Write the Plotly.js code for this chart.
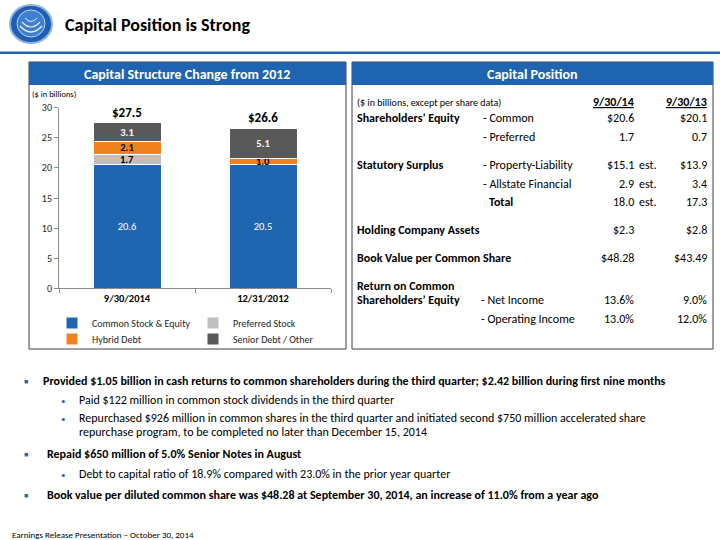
<!DOCTYPE html>
<html><head><meta charset="utf-8">
<script src="https://cdn.plot.ly/plotly-3.0.1.min.js"></script>
<style>html,body{margin:0;padding:0;background:#fff;}#chart{width:720px;height:540px;}</style>
</head><body><div id="chart"></div>
<script>
// ---------- DATA ----------
const categories = ['9/30/2014', '12/31/2012'];
const commonEquity = [20.6, 20.5];
const preferredStock = [1.7, 0];
const hybridDebt = [2.1, 1.0];
const seniorDebt = [3.1, 5.1];
const seriesNames = ['Common Stock & Equity', 'Preferred Stock', 'Hybrid Debt', 'Senior Debt / Other'];

const tableHeaders = ['9/30/14', '9/30/13'];
const tableRows = [
  {label: 'Shareholders\u2019 Equity', sub: '- Common', v1: '$20.6', est: '', v2: '$20.1'},
  {label: '', sub: '- Preferred', v1: '1.7', est: '', v2: '0.7'},
  {label: 'Statutory Surplus', sub: '- Property-Liability', v1: '$15.1', est: 'est.', v2: '$13.9'},
  {label: '', sub: '- Allstate Financial', v1: '2.9', est: 'est.', v2: '3.4'},
  {label: '', sub: '<b>Total</b>', v1: '18.0', est: 'est.', v2: '17.3'},
  {label: 'Holding Company Assets', sub: '', v1: '$2.3', est: '', v2: '$2.8'},
  {label: 'Book Value per Common Share', sub: '', v1: '$48.28', est: '', v2: '$43.49'},
  {label: 'Return on Common', sub: '', v1: '', est: '', v2: ''},
  {label: 'Shareholders\u2019 Equity', sub: '- Net Income', v1: '13.6%', est: '', v2: '9.0%'},
  {label: '', sub: '- Operating Income', v1: '13.0%', est: '', v2: '12.0%'}
];

const bullets = [
  {lvl: 1, lines: ['Provided $1.05 billion in cash returns to common shareholders during the third quarter; $2.42 billion during first nine months']},
  {lvl: 2, lines: ['Paid $122 million in common stock dividends in the third quarter']},
  {lvl: 2, lines: ['Repurchased $926 million in common shares in the third quarter and initiated second $750 million accelerated share', 'repurchase program, to be completed no later than December 15, 2014']},
  {lvl: 1, lines: ['Repaid $650 million of 5.0% Senior Notes in August']},
  {lvl: 2, lines: ['Debt to capital ratio of 18.9% compared with 23.0% in the prior year quarter']},
  {lvl: 1, lines: ['Book value per diluted common share was $48.28 at September 30, 2014, an increase of 11.0% from a year ago']}
];

// ---------- STYLE ----------
const FONT = "Carlito, Calibri, 'Liberation Sans Narrow', 'Liberation Sans', Arial, sans-serif";
const BLUE = '#1E64B0';
const C_COMMON = '#1F66B1', C_PREF = '#BFBFBF', C_HYB = '#F0821E', C_SEN = '#595959';

const px = x => x / 720;
const py = y => 1 - y / 540;

function lbl(arr) { return arr.map(v => v > 0 ? v.toFixed(1) : ''); }

function barTrace(name, vals, color, txtColor, bold, legend) {
  return {
    type: 'bar', name: name, x: categories, y: vals,
    marker: {color: color, line: {color: '#ffffff', width: 1}},
    text: lbl(vals),
    texttemplate: bold ? '<b>%{text}</b>' : '%{text}',
    textposition: 'inside', insidetextanchor: 'middle', textangle: 0,
    constraintext: 'none',
    insidetextfont: {family: FONT, size: 10.5, color: txtColor},
    hoverinfo: 'skip', legend: legend, width: 0.5
  };
}

const traces = [
  barTrace(seriesNames[0], commonEquity, C_COMMON, '#ffffff', false, 'legend'),
  barTrace(seriesNames[1], preferredStock, C_PREF, '#000000', true, 'legend'),
  barTrace(seriesNames[2], hybridDebt, C_HYB, '#000000', true, 'legend2'),
  barTrace(seriesNames[3], seniorDebt, C_SEN, '#ffffff', true, 'legend2')
];

const totals = categories.map((c, i) => commonEquity[i] + preferredStock[i] + hybridDebt[i] + seniorDebt[i]);

const annotations = [];
function ann(text, x, y, o) {
  annotations.push(Object.assign({
    text: text, x: px(x), y: py(y), xref: 'paper', yref: 'paper',
    xanchor: 'left', yanchor: 'middle', showarrow: false,
    font: {family: FONT, size: 12, color: '#000'}
  }, o || {}));
}

// totals above bars (data coords)
categories.forEach((c, i) => {
  annotations.push({
    text: '<b>$' + totals[i].toFixed(1) + '</b>', x: c, y: totals[i], xref: 'x', yref: 'y',
    yanchor: 'bottom', showarrow: false, yshift: 1,
    font: {family: FONT, size: 13, color: '#000'}
  });
});

// page title
ann('<b>Capital Position is Strong</b>', 63, 25, {font: {family: FONT, size: 18, color: '#000'}});
// panel titles
ann('<b>Capital Structure Change from 2012</b>', 187, 74, {xanchor: 'center', font: {family: FONT, size: 14, color: '#fff'}});
ann('<b>Capital Position</b>', 532, 74, {xanchor: 'center', font: {family: FONT, size: 14, color: '#fff'}});
ann('($ in billions)', 30, 94, {font: {family: FONT, size: 8.5, color: '#000'}});

// table
ann('($ in billions, except per share data)', 355, 102, {font: {family: FONT, size: 10, color: '#000'}});
ann('<b><u>' + tableHeaders[0] + '</u></b>', 636, 102, {xanchor: 'right'});
ann('<b><u>' + tableHeaders[1] + '</u></b>', 709, 102, {xanchor: 'right'});
const rowY = [118, 137, 165, 184, 202, 230, 258, 286, 300, 319];
tableRows.forEach((r, i) => {
  const y = rowY[i];
  if (r.label) ann('<b>' + r.label + '</b>', 355, y);
  if (r.sub) ann(r.sub, r.sub.indexOf('<b>') === 0 ? 487 : (i >= 8 ? 479 : 481), y);
  if (r.v1) ann(r.v1, 636, y, {xanchor: 'right'});
  if (r.est) ann(r.est, 637, y);
  if (r.v2) ann(r.v2, 709, y, {xanchor: 'right'});
});

// bullets
const bulletY = [381, 400, 418, 454, 474, 495];
bullets.forEach((b, i) => {
  const y = bulletY[i];
  if (b.lvl === 1) {
    ann('\u25A0', 22, y, {font: {family: FONT, size: 7, color: BLUE}});
    ann('<b>' + b.lines[0] + '</b>', i === 0 ? 41 : 45, y, {font: {family: FONT, size: 12, color: '#000'}});
  } else {
    ann('\u2022', 59, y, {font: {family: FONT, size: 9, color: BLUE}});
    b.lines.forEach((ln, k) => ann(ln, 77, y + 14 * k, {font: {family: FONT, size: 12, color: '#000'}}));
  }
});
ann('Earnings Release Presentation \u2013 October 30, 2014', 10, 534, {font: {family: FONT, size: 9, color: '#000'}});

// shapes
const shapes = [
  // header rule
  {type: 'rect', xref: 'paper', yref: 'paper', x0: 0, x1: 1, y0: py(54), y1: py(51.5), fillcolor: '#2763B1', line: {width: 0}},
  // logo
  {type: 'circle', xref: 'paper', yref: 'paper', x0: px(9), x1: px(53), y0: py(44), y1: py(4), fillcolor: '#8DB3E2', line: {width: 0}},
  {type: 'circle', xref: 'paper', yref: 'paper', x0: px(11), x1: px(51), y0: py(42), y1: py(6), fillcolor: '#1E5FB3', line: {width: 0}},
  {type: 'circle', xref: 'paper', yref: 'paper', x0: px(17), x1: px(45), y0: py(37), y1: py(10), fillcolor: '#3D7FD0', line: {color: '#BFD6F2', width: 1}},
  {type: 'path', xref: 'paper', yref: 'paper', path: `M ${px(20)} ${py(26)} Q ${px(31)} ${py(38)} ${px(42)} ${py(26)}`, line: {color: '#E6EEF9', width: 1.5}},
  {type: 'path', xref: 'paper', yref: 'paper', path: `M ${px(22)} ${py(22)} Q ${px(31)} ${py(32)} ${px(40)} ${py(22)}`, line: {color: '#E6EEF9', width: 1.2}},
  {type: 'path', xref: 'paper', yref: 'paper', path: `M ${px(25)} ${py(18)} Q ${px(31)} ${py(25)} ${px(37)} ${py(18)}`, line: {color: '#E6EEF9', width: 1}},
  // panels
  {type: 'rect', xref: 'paper', yref: 'paper', x0: px(29), x1: px(346), y0: py(349), y1: py(62), line: {color: '#404040', width: 1}, fillcolor: 'rgba(0,0,0,0)'},
  {type: 'rect', xref: 'paper', yref: 'paper', x0: px(29), x1: px(346), y0: py(85), y1: py(62), fillcolor: BLUE, line: {width: 0}},
  {type: 'rect', xref: 'paper', yref: 'paper', x0: px(352), x1: px(713), y0: py(349), y1: py(62), line: {color: '#404040', width: 1}, fillcolor: 'rgba(0,0,0,0)'},
  {type: 'rect', xref: 'paper', yref: 'paper', x0: px(352), x1: px(713), y0: py(85), y1: py(62), fillcolor: BLUE, line: {width: 0}}
];

const legendBase = {
  orientation: 'h', xanchor: 'left', yanchor: 'middle',
  xref: 'paper', yref: 'paper', traceorder: 'normal',
  font: {family: FONT, size: 10, color: '#262626'},
  entrywidth: 96, entrywidthmode: 'pixels', itemwidth: 30,
  bgcolor: 'rgba(0,0,0,0)', tracegroupgap: 0
};

const layout = {
  width: 720, height: 540,
  margin: {l: 0, r: 0, t: 0, b: 0},
  paper_bgcolor: '#ffffff', plot_bgcolor: '#ffffff',
  barmode: 'stack', bargap: 0.5,
  font: {family: FONT, color: '#000'},
  showlegend: true,
  xaxis: {
    domain: [px(59), px(331)], type: 'category',
    showline: true, linecolor: '#8C8C8C', linewidth: 1,
    ticks: 'outside', tickson: 'boundaries', ticklen: 4, tickcolor: '#8C8C8C',
    tickfont: {family: FONT, size: 10.5, color: '#000', weight: 'bold'},
    showgrid: false, zeroline: false, fixedrange: true
  },
  yaxis: {
    domain: [py(288.3), py(107.7)], range: [0, 30], tickvals: [0, 5, 10, 15, 20, 25, 30],
    showline: true, linecolor: '#8C8C8C', linewidth: 1,
    ticks: 'outside', ticklen: 4, tickcolor: '#8C8C8C',
    tickfont: {family: FONT, size: 10, color: '#262626'},
    showgrid: false, zeroline: false, fixedrange: true
  },
  legend: Object.assign({}, legendBase, {x: px(52), y: py(323)}),
  legend2: Object.assign({}, legendBase, {x: px(52), y: py(339)}),
  annotations: annotations,
  shapes: shapes
};

Plotly.newPlot('chart', traces, layout, {staticPlot: true, displayModeBar: false});
</script>
</body></html>
